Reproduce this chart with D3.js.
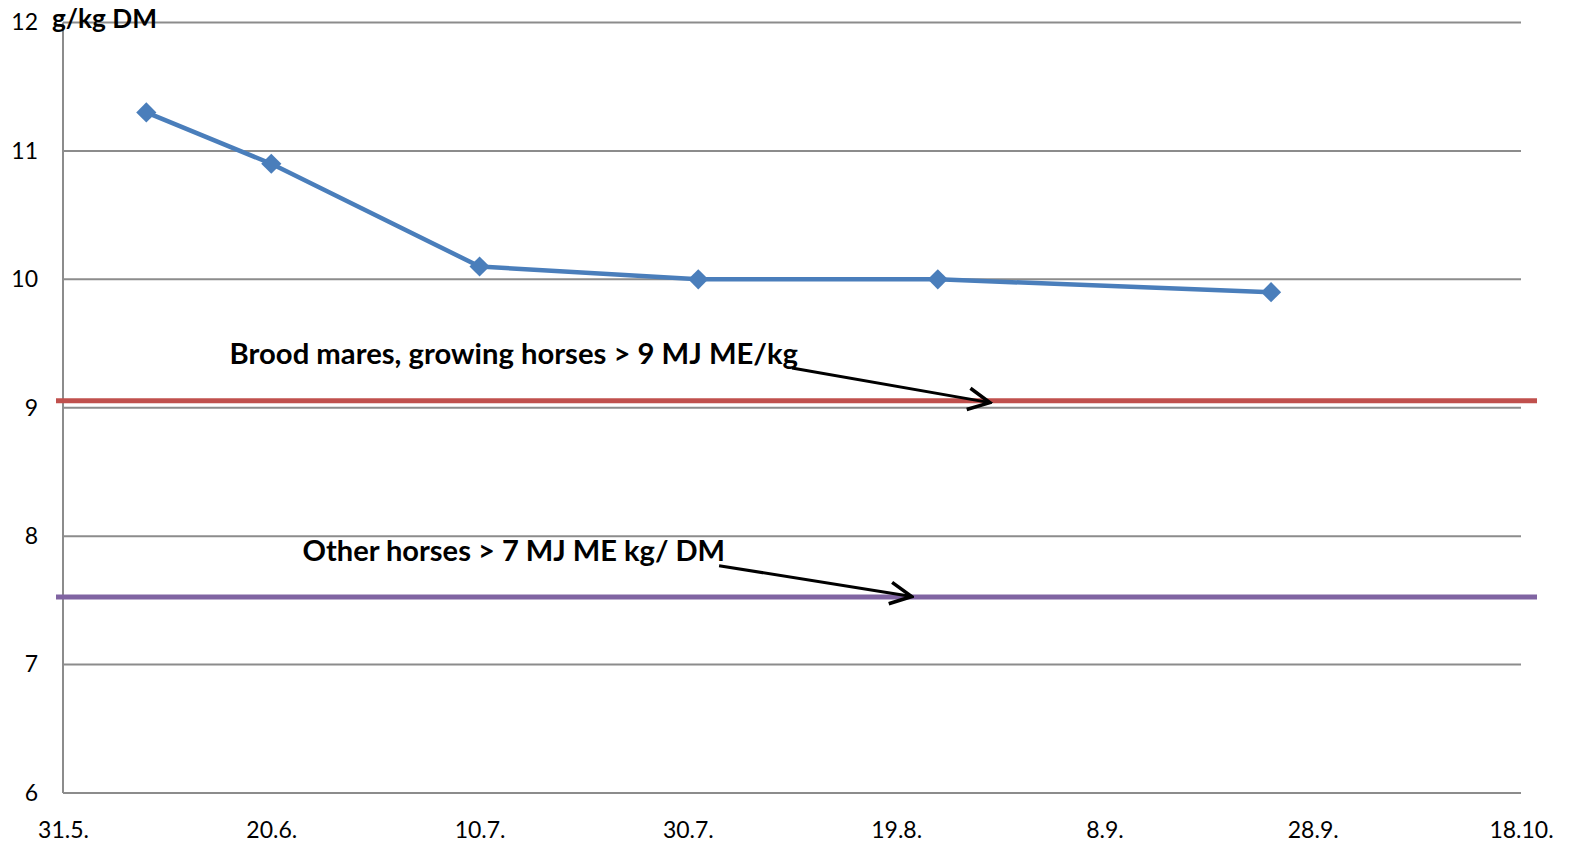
<!DOCTYPE html>
<html>
<head>
<meta charset="utf-8">
<script src="https://cdn.jsdelivr.net/npm/d3@7"></script>
<style>
  body { margin: 0; background: white; }
  .gridline { stroke: #8c8c8c; stroke-width: 2; }
  .tick text { font-family: Lato, "Open Sans", sans-serif; fill: #000; }
</style>
</head>
<body>
<div id="chart"></div>
<script>
// series
var dates = ["2013-06-08", "2013-06-20", "2013-07-10", "2013-07-31", "2013-08-23", "2013-09-24"];
var values = [11.3, 10.9, 10.1, 10.0, 10.0, 9.9];

// reference levels (drawn lines)
var refNames = ["Brood mares, growing horses > 9 MJ ME/kg", "Other horses > 7 MJ ME kg/ DM"];
var refValues = [9.055, 7.526];
var refColors = ["#c0504d", "#8064a2"];
// arrow from end of label to the line
var arrowFrom = [["2013-08-09", 9.31], ["2013-08-02", 7.77]];
var arrowTo = [["2013-08-28", 9.04], ["2013-08-20T12:00", 7.53]];
var labelAt = [["2013-06-16", 9.34], ["2013-06-23", 7.81]];

var xTicks = ["2013-05-31", "2013-06-20", "2013-07-10", "2013-07-30", "2013-08-19", "2013-09-08", "2013-09-28", "2013-10-18"];
var yTicks = [6, 7, 8, 9, 10, 11, 12];
var yTitle = "g/kg DM";

var parseDate = d3.isoParse;
var fmt = d3.timeFormat("%-d.%-m.");

var margin = {top: 22.5, right: 52, bottom: 51, left: 63};
var W = 1573, H = 844;
var width = W - margin.left - margin.right,
    height = H - margin.top - margin.bottom;

var svg = d3.select("#chart").append("svg")
  .attr("width", W).attr("height", H)
  .append("g")
  .attr("transform", "translate(" + margin.left + "," + margin.top + ")");

var x = d3.scaleTime()
  .domain([parseDate(xTicks[0]), parseDate(xTicks[xTicks.length - 1])])
  .range([0, width]);
var y = d3.scaleLinear().domain([6, 12]).range([height, 0]);

// horizontal grid
svg.append("g").selectAll("line")
  .data(yTicks)
  .enter().append("line")
  .attr("class", "gridline")
  .attr("x1", 0).attr("x2", width)
  .attr("y1", d => y(d)).attr("y2", d => y(d));

// left axis line
svg.append("line").attr("class", "gridline")
  .attr("x1", 0).attr("x2", 0).attr("y1", 0).attr("y2", height);

var yAxis = svg.append("g")
  .call(d3.axisLeft(y).tickValues(yTicks).tickSize(0).tickPadding(25).tickFormat(d3.format("d")));
yAxis.select(".domain").remove();
yAxis.selectAll("text").style("font-size", "23px");

var xAxis = svg.append("g")
  .attr("transform", "translate(0," + height + ")")
  .call(d3.axisBottom(x).tickValues(xTicks.map(parseDate)).tickSize(0).tickPadding(29).tickFormat(fmt));
xAxis.select(".domain").remove();
xAxis.selectAll("text").style("font-size", "23px");

svg.append("text")
  .attr("x", -11).attr("y", 5)
  .attr("textLength", 105).attr("lengthAdjust", "spacingAndGlyphs")
  .style("font-family", "Lato, sans-serif").style("font-weight", "bold")
  .style("font-size", "26px")
  .text(yTitle);

// reference lines (extend a bit past the plot)
svg.selectAll("line.ref")
  .data(refValues)
  .enter().append("line")
  .attr("class", "ref")
  .attr("x1", -7).attr("x2", width + 16)
  .attr("y1", d => y(d)).attr("y2", d => y(d))
  .attr("stroke", (d, i) => refColors[i])
  .attr("stroke-width", 5);

// labels, stretched so they end where the arrow starts
svg.selectAll("text.reflabel")
  .data(refNames)
  .enter().append("text")
  .attr("class", "reflabel")
  .attr("x", (d, i) => x(parseDate(labelAt[i][0])))
  .attr("y", (d, i) => y(labelAt[i][1]))
  .attr("textLength", (d, i) => x(parseDate(arrowFrom[i][0])) - x(parseDate(labelAt[i][0])) + 6)
  .attr("lengthAdjust", "spacingAndGlyphs")
  .style("font-family", "Lato, sans-serif").style("font-weight", "bold")
  .style("font-size", "28px")
  .text(d => d);

// arrows
svg.append("defs").append("marker")
  .attr("id", "arr")
  .attr("viewBox", "0 0 10 10")
  .attr("refX", 9).attr("refY", 5)
  .attr("markerWidth", 9).attr("markerHeight", 9)
  .attr("markerUnits", "strokeWidth")
  .attr("orient", "auto")
  .append("path")
  .attr("d", "M1,1 L9,5 L1,9")
  .attr("fill", "none").attr("stroke", "#000").attr("stroke-width", 1.3);

svg.selectAll("line.arrow")
  .data(arrowFrom)
  .enter().append("line")
  .attr("class", "arrow")
  .attr("x1", d => x(parseDate(d[0]))).attr("y1", d => y(d[1]))
  .attr("x2", (d, i) => x(parseDate(arrowTo[i][0]))).attr("y2", (d, i) => y(arrowTo[i][1]))
  .attr("stroke", "#000").attr("stroke-width", 3)
  .attr("marker-end", "url(#arr)");

// series line
var pts = dates.map((d, i) => ({date: parseDate(d), v: values[i]}));
svg.append("path")
  .datum(pts)
  .attr("fill", "none")
  .attr("stroke", "#4a7ebb")
  .attr("stroke-width", 4.5)
  .attr("stroke-linejoin", "round")
  .attr("d", d3.line().x(d => x(d.date)).y(d => y(d.v)));

svg.selectAll("path.pt")
  .data(pts)
  .enter().append("path")
  .attr("class", "pt")
  .attr("transform", d => "translate(" + x(d.date) + "," + y(d.v) + ")")
  .attr("d", d3.symbol().type(d3.symbolDiamond2).size(260))
  .attr("fill", "#4a7ebb");
</script>
</body>
</html>
